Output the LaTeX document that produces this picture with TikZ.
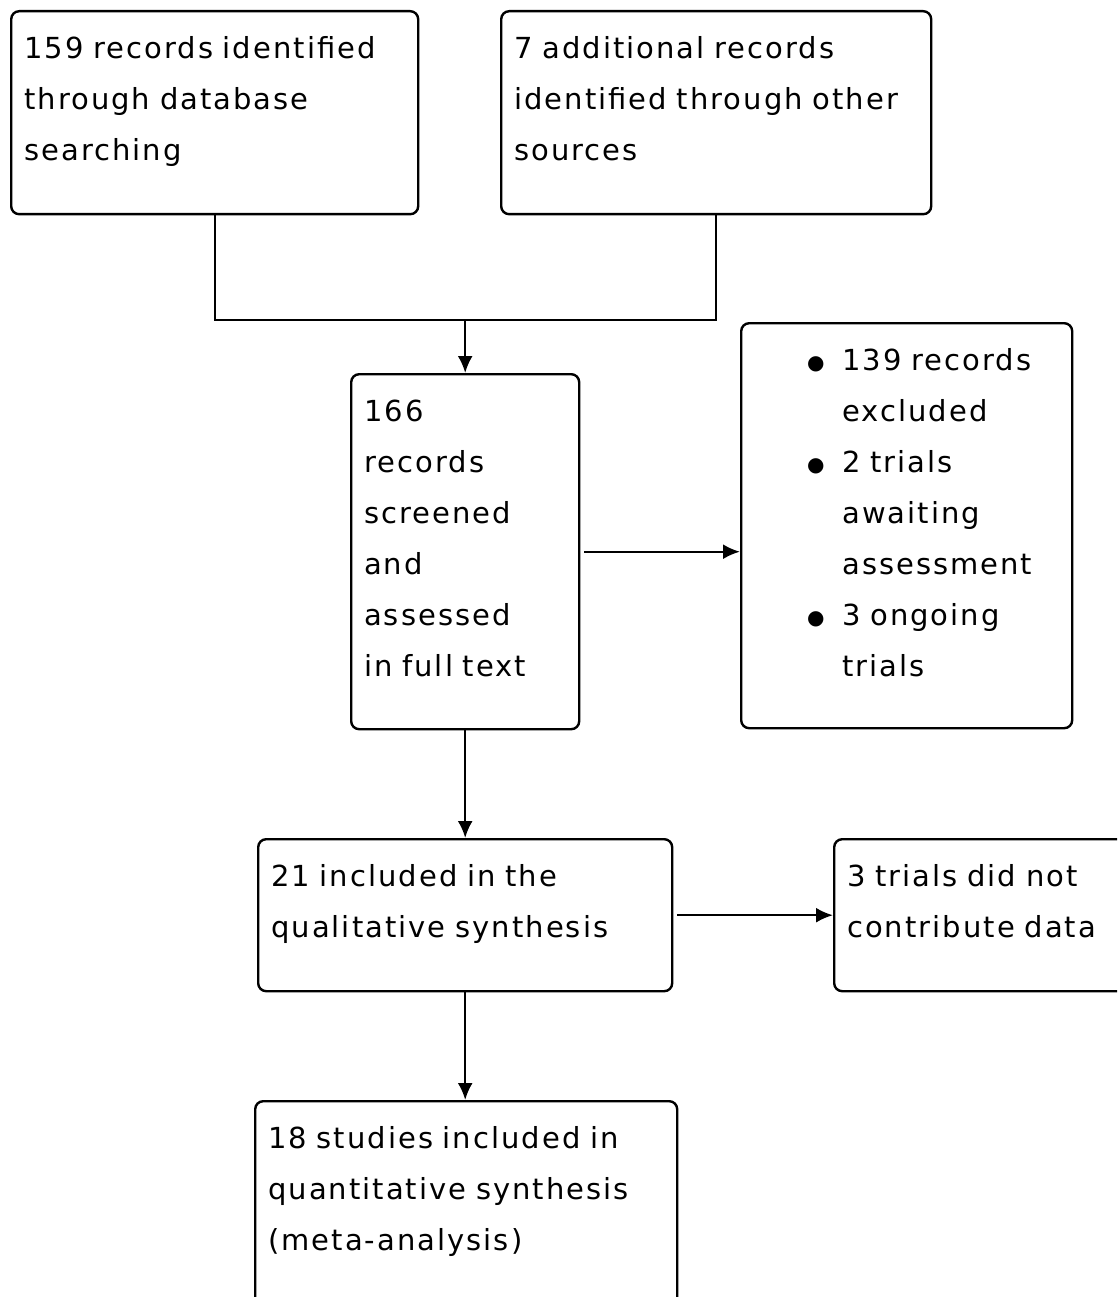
\documentclass[tikz,border=0pt]{standalone}
\usepackage{fontspec}
\setmainfont{DejaVu Sans}[LetterSpace=7]
\usetikzlibrary{arrows.meta}

\newcommand{\bulline}{\hspace*{53pt}\makebox[35pt][l]{\fontsize{20}{20}\selectfont\raisebox{1pt}{●}}}
\newcommand{\hangline}{\hspace*{88pt}}

\begin{document}
\begin{tikzpicture}[x=1pt, y=-1pt,
  every node/.style = {font=\fontsize{29}{51}\selectfont},
  box/.style = {shape=rectangle, rounded corners=8pt, draw,
    line width=2.4pt, align=left, anchor=north west,
    inner xsep=13pt, inner ysep=0pt, text height=47pt},
  arr/.style = {line width=2.4pt, -{Latex[length=17pt,width=15pt]}}]
  \clip (0,0) rectangle (1117,1297);
  \node[box, text width=381pt, text depth=156pt] (db) at (10,10)
    {159 records identified\\ through database\\ searching};
  \node[box, text width=404pt, text depth=156pt] (other) at (500,10)
    {7 additional records\\ identified through other\\ sources};
  \node[box, text width=202pt, text depth=308pt] (screened) at (350,373)
    {166\\ records\\ screened\\ and\\ assessed\\ in full text};
  \node[box, text width=305pt, text depth=358pt] (excluded) at (740,322)
    {\bulline 139 records\\ \hangline excluded\\
     \bulline 2 trials\\ \hangline awaiting\\ \hangline assessment\\
     \bulline 3 ongoing\\ \hangline trials};
  \node[box, text width=388pt, text depth=105pt] (qual) at (257,838)
    {21 included in the\\ qualitative synthesis};
  \node[box, text width=266pt, text depth=105pt] (nodata) at (833,838)
    {3 trials did not\\ contribute data};
  \node[box, text width=396pt, text depth=157pt] (quant) at (254,1100)
    {18 studies included in\\ quantitative synthesis\\ (meta-analysis)};
  % connectors
  \coordinate (join) at (screened.north |- 0,320);
  \draw[line width=2.4pt] (db.south) |- (join) -| (other.south);
  \draw[arr] (join) -- (screened.north);
  \draw[arr, shorten <=4pt] (screened.east) -- (screened.east -| excluded.west);
  \draw[arr] (screened.south) -- (screened.south |- qual.north);
  \draw[arr, shorten <=4pt] (qual.east) -- (qual.east -| nodata.west);
  \draw[arr] (qual.south) -- (qual.south |- quant.north);
\end{tikzpicture}
\end{document}
